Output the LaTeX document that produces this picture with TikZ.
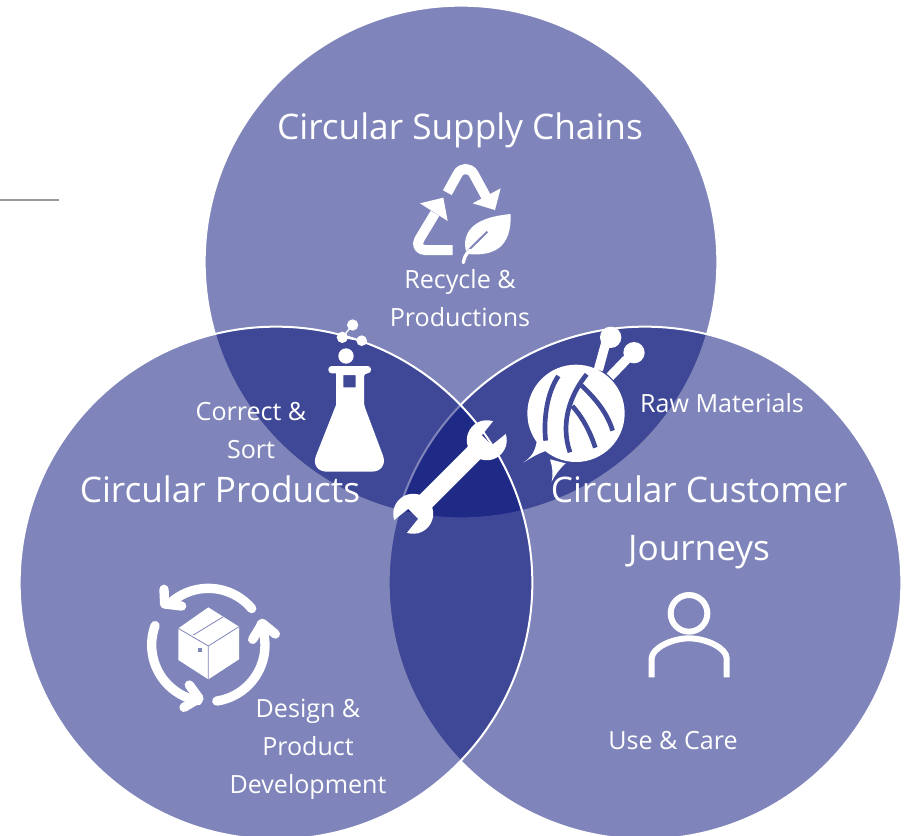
\documentclass[tikz,border=0pt]{standalone}
\usepackage{fontspec}
\setmainfont{Open Sans}
\usetikzlibrary{shapes.geometric}
\definecolor{vennblue}{HTML}{000B75}
\definecolor{vennbase}{HTML}{8085BA}
\definecolor{vennlens}{HTML}{404A98}
\definecolor{rulegray}{HTML}{999999}
\begin{document}
\begin{tikzpicture}
    [x=0.75pt, y=0.75pt, yscale=-1,
    venn/.style={circle, draw=white, line width=1.5pt, fill=vennblue, fill opacity=0.5, draw opacity=1, minimum size=384.5pt, inner sep=0pt},
    title/.style={text=white, align=center, font=\fontsize{26.4}{43.5}\selectfont},
    label/.style={text=white, align=center, font=\fontsize{18.8}{28.5}\selectfont},
    icon/.style={fill=white, draw=none},
    band/.style={draw=white, line cap=round, line join=round},
    cut/.style={draw=vennlens, line width=3.5pt}]
  \useasboundingbox (0,0) rectangle (906,835);
  \coordinate (rulestart) at (0,200);
  \coordinate (ruleend) at (59,200);
  \draw [rulegray, line width=1pt] (rulestart) -- (ruleend);

  \node [venn] (supply) at (461,262) {};
  \node [venn] (customer) at (645,583) {};
  \node [venn] (products) at (276,583) {};

  \node [title] (supplytitle) at (460,130) {Circular Supply Chains};
  \node [title] (productstitle) at (220,489) {Circular Products};
  \node [title] (customertitle) at (699,522) {Circular Customer\\Journeys};
  \node [label] (recycle) at (460,298) {Recycle \&\\Productions};
  \node [label] (correct) at (251,431) {Correct \&\\Sort};
  \node [label] (raw) at (722,403) {Raw Materials};
  \node [label] (design) at (308,749) {Design \&\\Product\\Development};
  \node [label] (care) at (673,741) {Use \& Care};

  % recycle arrows and leaf
  \begin{scope}[shift={(380,150)}, scale=1/3]
    \draw [draw=white, line width=7.5pt, line join=round]
      (202,128) -- (233,72) .. controls (243,52) and (270,52) .. (281,72) -- (318,140);
    \fill [icon] (362,115) -- (345,180) -- (278,160) -- cycle;
    \draw [draw=white, line width=7.5pt, line join=round]
      (165,190) -- (118,268) .. controls (108,285) and (118,300) .. (135,300) -- (218,300);
    \fill [icon] (120,160) -- (190,143) -- (203,213) -- cycle;
    \fill [icon] (392,192) .. controls (310,200) and (255,225) .. (255,285)
      .. controls (255,295) and (258,304) .. (262,312)
      .. controls (345,320) and (395,290) .. (392,192) -- cycle;
    \draw [draw=vennbase, line width=1.5pt] (322,245) -- (258,308);
    \draw [draw=white, line width=2.5pt, line cap=round] (270,300) .. controls (257,312) and (252,325) .. (250,338);
  \end{scope}

  % flask and bubbles
  \begin{scope}[shift={(300,310)}, scale=1/3]
    \fill [icon, even odd rule]
      [rounded corners=2.5pt] (85,168) -- (213,168) -- (213,190) -- (192,190) -- (192,285)
      [rounded corners=13pt] -- (267,485) -- (29,485)
      [rounded corners=0pt] -- (108,285) -- (108,190)
      [rounded corners=2.5pt] -- (85,190) -- cycle
      [sharp corners] (130,195) rectangle (167,232);
    \fill [icon] (138,138) circle [radius=23];
    \fill [icon] (158,45) circle [radius=17];
    \fill [icon] (127,82) circle [radius=17];
    \fill [icon] (185,92) circle [radius=16];
    \draw [white, line width=1pt] (158,45) -- (127,82) -- (185,92);
  \end{scope}

  % ball of wool
  \begin{scope}[shift={(515,320)}, scale=1/3]
    \fill [icon] (183,280) circle [radius=146];
    \fill [icon] (287,52) circle [radius=32];
    \fill [icon] (357,98) circle [radius=32];
    \draw [white, line width=7pt] (272,70) -- (250,150);
    \draw [white, line width=7pt] (335,118) -- (285,170);
    \fill [icon] (25,428) .. controls (50,410) and (60,395) .. (65,365) -- (95,392)
      .. controls (70,400) and (45,415) .. (25,428) -- cycle;
    \fill [icon] (110,485) .. controls (115,460) and (112,440) .. (105,418) -- (152,430)
      .. controls (135,445) and (120,465) .. (110,485) -- cycle;
    \draw [cut] (130,168) .. controls (95,220) and (85,300) .. (92,362);
    \draw [cut] (215,163) .. controls (165,225) and (135,310) .. (165,397);
    \draw [cut] (172,258) .. controls (205,295) and (225,335) .. (241,383);
    \draw [cut] (198,195) .. controls (240,235) and (275,275) .. (293,332);
  \end{scope}

  % wrench
  \begin{scope}[shift={(450,477)}, rotate=-45]
    \fill [icon] (34.1,9) arc [start angle=153.3, end angle=26.7, radius=20]
      -- (52,7) -- (52,-7) -- (69.9,-9)
      arc [start angle=-26.7, end angle=-153.3, radius=20]
      -- (-34.1,-9) arc [start angle=-26.7, end angle=-153.3, radius=20]
      -- (-52,-7) -- (-52,7) -- (-69.9,9)
      arc [start angle=153.3, end angle=26.7, radius=20] -- cycle;
  \end{scope}

  % box with three arrows
  \begin{scope}[shift={(130,570)}, scale=1/3]
    \fill [icon] (235,112) -- (327,170) -- (327,268) -- (235,328) -- (145,270) -- (145,175) -- cycle;
    \draw [vennbase, line width=0.6pt] (145,175) -- (235,228) -- (327,170) (235,228) -- (235,328) (190,195) -- (280,140);
    \fill [vennbase] (204,234) rectangle (216,246);
    \draw [band, line width=7pt] (235,225) ++(-40:170) arc [start angle=-40, end angle=-134, radius=170];
    \draw [band, line width=7pt] (102,58) -- (104,102) -- (155,108);
    \draw [band, line width=7pt] (235,225) ++(200:170) arc [start angle=200, end angle=100.6, radius=170];
    \draw [band, line width=7pt] (178,345) -- (207,385) -- (162,412);
    \draw [band, line width=7pt] (235,225) ++(81.4:170) arc [start angle=81.4, end angle=-21.5, radius=170];
    \draw [band, line width=7pt] (368,208) -- (397,160) -- (436,192);
  \end{scope}

  % person
  \begin{scope}[shift={(630,580)}, scale=1/3]
    \draw [white, line width=4.5pt] (177,100) circle [radius=55];
    \draw [white, line width=4.5pt] (65,292) -- (65,235) .. controls (65,205) and (125,175) .. (177,175)
      .. controls (230,175) and (290,205) .. (290,235) -- (290,292);
  \end{scope}
\end{tikzpicture}
\end{document}
